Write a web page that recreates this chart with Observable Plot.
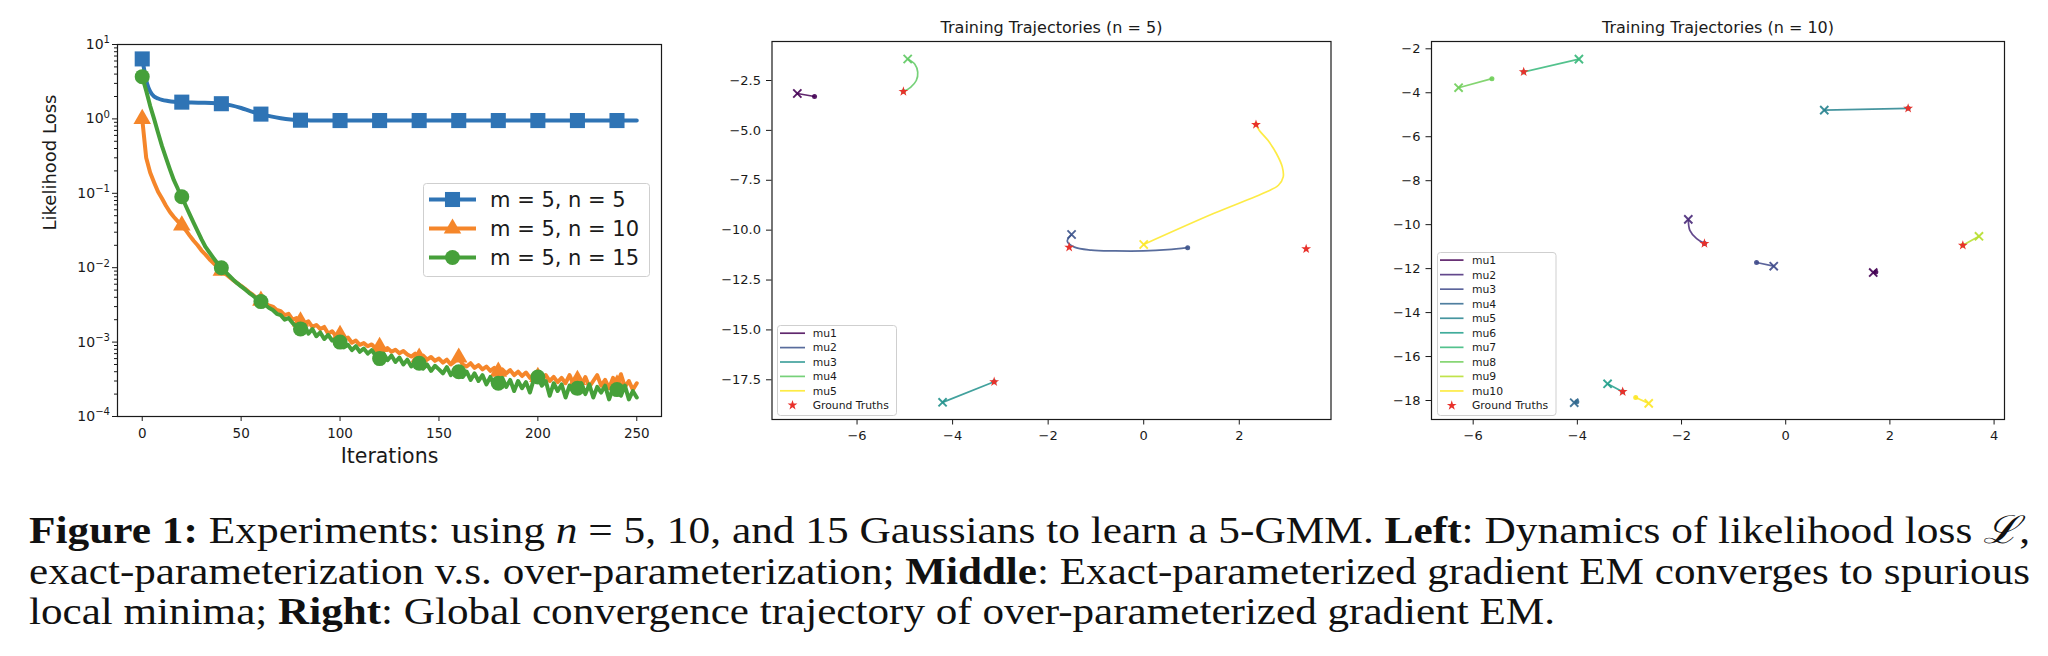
<!DOCTYPE html>
<html><head><meta charset="utf-8">
<script src="https://cdn.jsdelivr.net/npm/d3@7"></script>
<script src="https://cdn.jsdelivr.net/npm/@observablehq/plot@0.6"></script>
<style>
html,body{margin:0;padding:0;background:#fff;}
#fig{position:relative;width:2048px;height:656px;overflow:hidden;background:#fff;}
</style></head><body><div id="fig"></div>
<script>
// ---------------- Left panel data: likelihood loss vs iterations ----------------
const seriesLabels = ["m = 5, n = 5", "m = 5, n = 10", "m = 5, n = 15"];
const iterTicks = [0, 50, 100, 150, 200, 250];
const lossTicks = [1e-4, 1e-3, 1e-2, 1e-1, 1, 10];
const lossMinorTicks = [2e-4,3e-4,4e-4,5e-4,6e-4,7e-4,8e-4,9e-4,2e-3,3e-3,4e-3,5e-3,6e-3,7e-3,8e-3,9e-3,
  2e-2,3e-2,4e-2,5e-2,6e-2,7e-2,8e-2,9e-2,0.2,0.3,0.4,0.5,0.6,0.7,0.8,0.9,2,3,4,5,6,7,8,9];

const iterN5 = [0,1,2,3,4,6,8,10,13,16,20,25,30,35,40,45,50,55,60,65,70,75,80,85,90,
  100,110,120,130,140,150,160,170,180,190,200,210,220,230,240,250];
const lossN5 = [6.4,4.6,3.3,2.7,2.35,2.0,1.88,1.8,1.74,1.7,1.68,1.66,1.65,1.64,1.6,1.52,1.4,1.26,1.16,1.08,1.02,0.98,0.96,0.955,0.95,
  0.95,0.95,0.95,0.95,0.95,0.95,0.95,0.95,0.95,0.95,0.95,0.95,0.95,0.95,0.95,0.95];

const iterEvery2 = [0,2,4,6,8,10,12,14,16,18,20,22,24,26,28,30,32,34,36,38,40,42,44,46,48,50,52,54,56,58,
  60,62,64,66,68,70,72,74,76,78,80,82,84,86,88,90,92,94,96,98,100,102,104,106,108,110,112,114,116,118,
  120,122,124,126,128,130,132,134,136,138,140,142,144,146,148,150,152,154,156,158,160,162,164,166,168,170,
  172,174,176,178,180,182,184,186,188,190,192,194,196,198,200,202,204,206,208,210,212,214,216,218,220,
  222,224,226,228,230,232,234,236,238,240,242,244,246,248,250];

const lossN10 = [
  1.0,0.30,0.19,0.14,0.105,0.085,0.068,0.056,0.048,0.042,
  0.037,0.032,0.027,0.023,0.020,0.017,0.015,0.013,0.0115,0.0102,
  0.0091,0.0083,0.0075,0.0068,0.0062,0.0057,0.0052,0.0047,0.0043,0.0039,
  0.0036,0.0034,0.0031,0.0030,0.0027,0.0026,0.0023,0.0024,0.0020,0.0021,
  0.0019,0.0018,0.0019,0.0016,0.0017,0.0015,0.0016,0.0013,0.0014,0.0012,
  0.00125,0.0011,0.00115,0.00098,0.00105,0.00092,0.00097,0.00088,0.00093,0.00082,
  0.00086,0.00078,0.00083,0.00074,0.00079,0.00071,0.00076,0.00068,0.00064,0.00070,
  0.00062,0.00066,0.00058,0.00063,0.00056,0.00060,0.00053,0.00058,0.00050,0.00055,
  0.00062,0.00050,0.00047,0.00052,0.00045,0.00049,0.00043,0.00047,0.00041,0.00045,
  0.00040,0.00043,0.00038,0.00042,0.00036,0.00040,0.00035,0.00039,0.00033,0.00037,
  0.00034,0.00031,0.00036,0.00030,0.00034,0.00029,0.00033,0.00028,0.00036,0.00027,
  0.00031,0.00026,0.00034,0.00025,0.00030,0.00036,0.00026,0.00031,0.00024,0.00033,
  0.00027,0.00037,0.00025,0.00030,0.00023,0.00028];

const lossN15 = [
  3.7,2.4,1.5,1.0,0.65,0.43,0.30,0.21,0.15,0.115,
  0.090,0.068,0.052,0.040,0.031,0.024,0.019,0.016,0.0135,0.0115,
  0.0100,0.0088,0.0078,0.0069,0.0062,0.0056,0.0051,0.0046,0.0042,0.0038,
  0.0035,0.0032,0.0029,0.0027,0.0024,0.0023,0.0020,0.0021,0.0018,0.0016,
  0.0015,0.0017,0.0013,0.0015,0.0012,0.00135,0.0011,0.00125,0.00105,0.0011,
  0.00100,0.00085,0.00092,0.00078,0.00088,0.00074,0.00082,0.00070,0.00078,0.00066,
  0.00060,0.00070,0.00057,0.00066,0.00054,0.00062,0.00050,0.00058,0.00047,0.00055,
  0.00052,0.00044,0.00050,0.00041,0.00048,0.00043,0.00038,0.00046,0.00036,0.00042,
  0.00040,0.00034,0.00040,0.00031,0.00038,0.00030,0.00036,0.00027,0.00034,0.00026,
  0.00028,0.00033,0.00025,0.00031,0.00022,0.00030,0.00024,0.00029,0.00021,0.00032,
  0.00034,0.00026,0.00030,0.00019,0.00028,0.00022,0.00027,0.00018,0.00026,0.00021,
  0.00024,0.00028,0.00020,0.00027,0.00018,0.00025,0.00021,0.00026,0.00017,0.00024,
  0.00023,0.00019,0.00026,0.00017,0.00022,0.00018];

// ---------------- Middle / right panels: trajectories ----------------
const truthX = [-5.03, 2.35, -1.56, 3.40, -3.13];
const truthY = [-3.05, -4.71, -10.86, -10.94, -17.60];

const midTitle = "Training Trajectories (n = 5)";
const midNames = ["mu1","mu2","mu3","mu4","mu5"];
const midColors = ["#440154","#3b528b","#21918c","#5ec962","#fde725"];
const midXTicks = [-6,-4,-2,0,2];
const midYTicks = [-2.5,-5,-7.5,-10,-12.5,-15,-17.5];
// each trajectory: first point = start (x marker), last point = end (dot)
const mid_mu1 = [[-7.25,-3.15],[-6.89,-3.30]];
const mid_mu2 = [[-1.51,-10.22],[-1.60,-10.55],[-1.45,-10.85],[-1.1,-11.0],[-0.6,-11.04],[0.0,-11.04],[0.5,-10.98],[0.92,-10.88]];
const mid_mu3 = [[-4.21,-18.63],[-3.13,-17.60]];
const mid_mu4 = [[-4.94,-1.42],[-4.79,-1.68],[-4.73,-2.08],[-4.76,-2.5],[-4.88,-2.84],[-5.03,-3.05]];
const mid_mu5 = [[0.0,-10.72],[1.46,-9.17],[2.55,-8.1],[2.82,-7.75],[2.92,-7.33],[2.9,-6.83],[2.78,-6.17],[2.6,-5.5],[2.42,-5.0],[2.35,-4.71]];

const rightTitle = "Training Trajectories (n = 10)";
const rightNames = ["mu1","mu2","mu3","mu4","mu5","mu6","mu7","mu8","mu9","mu10"];
const rightColors = ["#440154","#482878","#3e4989","#31688e","#26828e","#1f9e89","#35b779","#6ece58","#b5de2b","#fde725"];
const rightXTicks = [-6,-4,-2,0,2,4];
const rightYTicks = [-2,-4,-6,-8,-10,-12,-14,-16,-18];
const r_mu1 = [[1.68,-12.18],[1.73,-12.15]];
const r_mu2 = [[-1.87,-9.76],[-1.84,-10.26],[-1.71,-10.64],[-1.56,-10.86]];
const r_mu3 = [[-0.23,-11.89],[-0.56,-11.72]];
const r_mu4 = [[-4.06,-18.10],[-4.01,-18.06]];
const r_mu5 = [[0.74,-4.79],[2.35,-4.71]];
const r_mu6 = [[-3.42,-17.24],[-3.13,-17.60]];
const r_mu7 = [[-3.97,-2.47],[-5.03,-3.05]];
const r_mu8 = [[-6.28,-3.77],[-5.64,-3.36]];
const r_mu9 = [[3.71,-10.53],[3.40,-10.94]];
const r_mu10 = [[-2.63,-18.13],[-2.88,-17.86]];

// ---------------- Caption ----------------
const captionLines = [
  [["Figure 1:","b"],[" Experiments: using ",""],["n","i"],[" = 5, 10, and 15 Gaussians to learn a 5-GMM. ",""],["Left","b"],[": Dynamics of likelihood loss ",""],["ℒ","i"],[",",""]],
  [["exact-parameterization v.s. over-parameterization; ",""],["Middle","b"],[": Exact-parameterized gradient EM converges to spurious",""]],
  [["local minima; ",""],["Right","b"],[": Global convergence trajectory of over-parameterized gradient EM.",""]]
];

// ---------------- styling constants ----------------
const INK = "#1a1a1a";
const C_BLUE = "#2f74b5", C_ORANGE = "#f5862a", C_GREEN = "#46a03a";
const STAR = "#e8312b";
const fig = document.getElementById("fig");
function place(node, x, y) { node.style.position = "absolute"; node.style.left = x + "px"; node.style.top = y + "px"; fig.appendChild(node); return node; }
const minus = s => String(s).replace("-", "\u2212");

// ================= LEFT PANEL =================
const rowsOf = (iters, vals) => iters.map((it, i) => ({iter: it, loss: vals[i]}));
const rN5 = rowsOf(iterN5, lossN5), rN10 = rowsOf(iterEvery2, lossN10), rN15 = rowsOf(iterEvery2, lossN15);
const every20 = d => d.iter % 20 === 0 && d.iter <= 240;

const leftPlot = Plot.plot({
  width: 680, height: 470, marginLeft: 117, marginRight: 19, marginTop: 44, marginBottom: 54,
  style: {fontFamily: "DejaVu Sans", fontSize: "13.5px", color: INK, background: "transparent", overflow: "visible"},
  x: {domain: [-12.5, 262.5]},
  y: {type: "log", domain: [1e-4, 10]},
  marks: [
    Plot.axisX({ticks: iterTicks, tickSize: 5, tickPadding: 7, fontSize: 13.5, label: null, tickFormat: d => String(d)}),
    Plot.axisY({ticks: lossMinorTicks, tickSize: 3, tickFormat: () => "", label: null}),
    Plot.axisY({ticks: lossTicks, tickSize: 5, tickPadding: 2.5, fontSize: 14, label: null, tickFormat: d => "10^" + Math.round(Math.log10(d))}),
    Plot.line(rN5, {x: "iter", y: "loss", stroke: C_BLUE, strokeWidth: 4, curve: "monotone-x"}),
    Plot.dot(rN5.filter(every20), {x: "iter", y: "loss", symbol: "square", r: 8.5, fill: C_BLUE}),
    Plot.line(rN10, {x: "iter", y: "loss", stroke: C_ORANGE, strokeWidth: 4, strokeLinejoin: "round"}),
    Plot.dot(rN10.filter(every20), {x: "iter", y: "loss", symbol: "triangle", r: 6.5, fill: C_ORANGE}),
    Plot.line(rN15, {x: "iter", y: "loss", stroke: C_GREEN, strokeWidth: 4, strokeLinejoin: "round"}),
    Plot.dot(rN15.filter(every20), {x: "iter", y: "loss", symbol: "circle", r: 7.5, fill: C_GREEN}),
    Plot.frame({stroke: INK, strokeWidth: 1.2}),
    Plot.text(["Iterations"], {text: d => d, frameAnchor: "bottom", lineAnchor: "middle", dy: 40, fontSize: 20.5, fill: INK}),
    Plot.text(["Likelihood Loss"], {text: d => d, frameAnchor: "left", lineAnchor: "middle", dx: -67, rotate: -90, fontSize: 18, fill: INK})
  ]
});
d3.select(leftPlot).selectAll('g[aria-label="y-axis tick label"] text').each(function() {
  const t = this.textContent;
  if (!t.startsWith("10^")) return;
  const e = minus(t.slice(3));
  this.textContent = "10";
  d3.select(this).append("tspan").attr("dy", "-0.55em").attr("font-size", "0.72em").text(e);
});
place(leftPlot, 0, 0);

// ================= legend helper =================
function legend({x, y, w, h, rows, rowY0, rowStep, h0, h1, tx, fontSize, lineW}) {
  const svg = d3.create("svg").attr("width", w + 2).attr("height", h + 2).style("overflow", "visible");
  svg.append("rect").attr("x", 0.5).attr("y", 0.5).attr("width", w).attr("height", h).attr("rx", 3)
    .attr("fill", "white").attr("fill-opacity", 0.85).attr("stroke", "#cfcfcf").attr("stroke-width", 1);
  rows.forEach((r, i) => {
    const cy = 0.5 + rowY0 + i * rowStep;
    if (r.line) svg.append("line").attr("x1", h0).attr("x2", h1).attr("y1", cy).attr("y2", cy)
      .attr("stroke", r.color).attr("stroke-width", lineW).attr("stroke-opacity", r.opacity ?? 1);
    if (r.symbol) svg.append("path").attr("transform", `translate(${(h0 + h1) / 2},${cy})`)
      .attr("d", d3.symbol().type(r.symbol).size(r.size)()).attr("fill", r.color);
    svg.append("text").attr("x", tx).attr("y", cy).attr("dy", "0.36em").attr("font-family", "DejaVu Sans")
      .attr("font-size", fontSize).attr("fill", INK).text(r.label);
  });
  place(svg.node(), x, y);
}

legend({x: 423, y: 183, w: 226, h: 93, rowY0: 16, rowStep: 29, h0: 6, h1: 53, tx: 67, fontSize: 21, lineW: 4,
  rows: [
    {label: seriesLabels[0], color: C_BLUE, line: true, symbol: d3.symbolSquare, size: Math.PI * 8.5 * 8.5},
    {label: seriesLabels[1], color: C_ORANGE, line: true, symbol: d3.symbolTriangle, size: Math.PI * 6.5 * 6.5},
    {label: seriesLabels[2], color: C_GREEN, line: true, symbol: d3.symbolCircle, size: Math.PI * 7.5 * 7.5}
  ]});

// ================= trajectory panels =================
function trajRows(names, colors, trajs) {
  const rows = [];
  trajs.forEach((pts, k) => pts.forEach((p, i) => rows.push({mu: names[k], color: colors[k], x: p[0], y: p[1], i, last: i === pts.length - 1})));
  return rows;
}
const truths = truthX.map((x, i) => ({x, y: truthY[i]}));

function trajPlot({width, ml, mr, xdom, ydom, xticks, yticks, yfmt, rows, title}) {
  return Plot.plot({
    width, height: 470, marginLeft: ml, marginRight: mr, marginTop: 41, marginBottom: 51,
    style: {fontFamily: "DejaVu Sans", fontSize: "13px", color: INK, background: "transparent", overflow: "visible"},
    x: {domain: xdom}, y: {domain: ydom}, color: {type: "identity"},
    marks: [
      Plot.axisX({ticks: xticks, tickSize: 5.5, tickPadding: 6, label: null, tickFormat: d => minus(d)}),
      Plot.axisY({ticks: yticks, tickSize: 5.5, tickPadding: 5.5, label: null, tickFormat: yfmt}),
      Plot.line(rows, {x: "x", y: "y", z: "mu", stroke: "color", strokeWidth: 1.7, strokeOpacity: 0.85, curve: "catmull-rom"}),
      Plot.dot(rows.filter(d => d.i === 0), {x: "x", y: "y", symbol: "times", r: 3.8, stroke: "color", strokeWidth: 1.9, strokeOpacity: 0.9}),
      Plot.dot(rows.filter(d => d.last), {x: "x", y: "y", r: 2.5, fill: "color", fillOpacity: 0.9}),
      Plot.dot(truths, {x: "x", y: "y", symbol: "star", r: 3.1, fill: STAR}),
      Plot.frame({stroke: INK, strokeWidth: 1.2}),
      Plot.text([title], {text: d => d, frameAnchor: "top", lineAnchor: "middle", dy: -14, fontSize: 16, fill: INK})
    ]
  });
}

const midRows = trajRows(midNames, midColors, [mid_mu1, mid_mu2, mid_mu3, mid_mu4, mid_mu5]);
place(trajPlot({width: 680, ml: 91.5, mr: 29.5, xdom: [-7.78, 3.92], ydom: [-19.49, -0.545],
  xticks: midXTicks, yticks: midYTicks, yfmt: d => minus(d.toFixed(1)), rows: midRows, title: midTitle}), 680, 0);

const rightRows = trajRows(rightNames, rightColors, [r_mu1, r_mu2, r_mu3, r_mu4, r_mu5, r_mu6, r_mu7, r_mu8, r_mu9, r_mu10]);
place(trajPlot({width: 688, ml: 71, mr: 44, xdom: [-6.80, 4.20], ydom: [-18.864, -1.668],
  xticks: rightXTicks, yticks: rightYTicks, yfmt: d => minus(d), rows: rightRows, title: rightTitle}), 1360, 0);

const starSize = Math.PI * 3.1 * 3.1;
legend({x: 777, y: 325, w: 119, h: 90, rowY0: 7.7, rowStep: 14.4, h0: 3, h1: 28, tx: 35.7, fontSize: 10.8, lineW: 1.7,
  rows: midNames.map((n, i) => ({label: n, color: midColors[i], line: true, opacity: 0.85}))
    .concat([{label: "Ground Truths", color: STAR, symbol: d3.symbolStar, size: starSize}])});
legend({x: 1437, y: 252, w: 118.5, h: 163, rowY0: 7.6, rowStep: 14.54, h0: 3, h1: 26.5, tx: 35, fontSize: 10.8, lineW: 1.7,
  rows: rightNames.map((n, i) => ({label: n, color: rightColors[i], line: true, opacity: 0.85}))
    .concat([{label: "Ground Truths", color: STAR, symbol: d3.symbolStar, size: starSize}])});

// ================= caption =================
const cap = d3.create("svg").attr("width", 2048).attr("height", 186);
const capBase = [73, 114, 154], capLen = [2001, 2001, 1526];
captionLines.forEach((segs, li) => {
  const t = cap.append("text").attr("x", 29).attr("y", capBase[li])
    .attr("font-family", "'Liberation Serif', 'DejaVu Serif', serif").attr("font-size", 38.5).attr("fill", "#111")
    .attr("textLength", capLen[li]).attr("lengthAdjust", "spacingAndGlyphs");
  segs.forEach(([s, f]) => {
    const ts = t.append("tspan").text(s);
    if (f === "b") ts.attr("font-weight", "bold");
    if (f === "i") ts.attr("font-style", "italic");
  });
});
place(cap.node(), 0, 470);
</script></body></html>
